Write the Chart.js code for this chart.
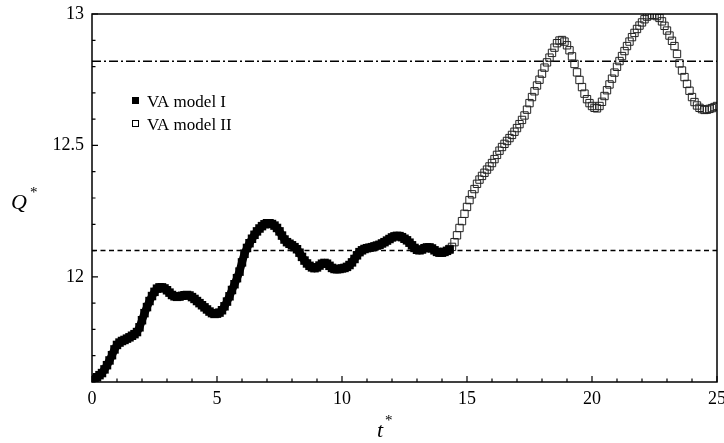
<!DOCTYPE html>
<html>
<head>
<meta charset="utf-8">
<script src="https://cdn.jsdelivr.net/npm/chart.js@4.4.0/dist/chart.umd.min.js"></script>
<style>
  html, body { margin: 0; padding: 0; background: #fff; }
  #wrap { width: 724px; height: 443px; position: relative; }
</style>
</head>
<body>
<div id="wrap"><canvas id="myChart"></canvas></div>
<script>
// sampling of both runs: t* every 0.1
var tStep = 0.1;
var tStartI = 0;
var tStartII = 14.3;

// VA model I, t* = 0 .. 14.3
var modelI = [
  11.608, 11.612, 11.618, 11.626, 11.634, 11.648, 11.664, 11.682, 11.702, 11.724,
  11.741, 11.750, 11.756, 11.760, 11.765, 11.770, 11.776, 11.782, 11.790, 11.808,
  11.835, 11.862, 11.885, 11.908, 11.927, 11.943, 11.955, 11.960, 11.960, 11.956,
  11.949, 11.940, 11.931, 11.926, 11.924, 11.925, 11.928, 11.930, 11.931, 11.929,
  11.923, 11.916, 11.908, 11.900, 11.892, 11.884, 11.876, 11.868, 11.862, 11.859,
  11.860, 11.864, 11.873, 11.888, 11.906, 11.926, 11.950, 11.972, 11.995, 12.020,
  12.055, 12.088, 12.110, 12.128, 12.145, 12.160, 12.173, 12.184, 12.193, 12.200,
  12.204, 12.204, 12.201, 12.195, 12.186, 12.173, 12.157, 12.142, 12.132, 12.126,
  12.120, 12.113, 12.105, 12.092, 12.076, 12.062, 12.051, 12.042, 12.036, 12.033,
  12.036, 12.043, 12.050, 12.053, 12.050, 12.042, 12.034, 12.030, 12.029, 12.030,
  12.032, 12.034, 12.038, 12.045, 12.055, 12.068, 12.082, 12.094, 12.101, 12.106,
  12.109, 12.111, 12.113, 12.116, 12.119, 12.122, 12.127, 12.132, 12.138, 12.144,
  12.150, 12.154, 12.156, 12.155, 12.151, 12.145, 12.139, 12.130, 12.120, 12.110,
  12.103, 12.101, 12.104, 12.109, 12.112, 12.112, 12.108, 12.101, 12.095, 12.092,
  12.092, 12.095, 12.099, 12.104
];

// VA model II, t* = 14.3 .. 25
var modelII = [
  12.106, 12.114, 12.132, 12.158, 12.186, 12.212, 12.240, 12.266, 12.292, 12.314,
  12.334, 12.354, 12.370, 12.384, 12.396, 12.408, 12.420, 12.433, 12.448, 12.464,
  12.480, 12.494, 12.506, 12.517, 12.528, 12.540, 12.552, 12.566, 12.581, 12.597,
  12.614, 12.636, 12.661, 12.684, 12.706, 12.728, 12.750, 12.773, 12.796, 12.816,
  12.834, 12.852, 12.872, 12.889, 12.899, 12.901, 12.895, 12.881, 12.862, 12.839,
  12.810, 12.778, 12.749, 12.722, 12.697, 12.676, 12.661, 12.650, 12.643, 12.641,
  12.650, 12.666, 12.688, 12.710, 12.732, 12.754, 12.777, 12.799, 12.821, 12.840,
  12.859, 12.878, 12.895, 12.912, 12.928, 12.943, 12.956, 12.968, 12.980, 12.990,
  12.995, 12.997, 12.996, 12.992, 12.985, 12.972, 12.955, 12.937, 12.918, 12.898,
  12.878, 12.848, 12.812, 12.785, 12.760, 12.734, 12.708, 12.684, 12.665, 12.652,
  12.643, 12.638, 12.635, 12.636, 12.639, 12.642, 12.646, 12.650
];

// horizontal reference levels
var levelDashed = 12.1;
var levelDashDot = 12.82;

var xTicks = [0, 5, 10, 15, 20, 25];
var yTicks = [12, 12.5, 13];
var legendNames = ['VA model I', 'VA model II'];

var serif = '"Liberation Serif", "DejaVu Serif", serif';

function toPoints(start, arr) {
  return arr.map(function (q, i) {
    return { x: Math.round((start + i * tStep) * 10) / 10, y: q };
  });
}

function level(v) {
  return [{ x: 0, y: v }, { x: 25, y: v }];
}

// frame, inward tick marks, axis titles and the legend
var decorations = {
  id: 'decorations',
  afterDraw: function (chart) {
    var ctx = chart.ctx;
    var xs = chart.scales.x, ys = chart.scales.y;
    var L = xs.getPixelForValue(0), R = xs.getPixelForValue(25);
    var T = ys.getPixelForValue(13), B = ys.getPixelForValue(11.6);
    ctx.save();
    ctx.strokeStyle = '#000';
    ctx.lineWidth = 1.5;
    ctx.strokeRect(L, T, R - L, B - T);

    ctx.lineWidth = 1.2;
    ctx.beginPath();
    for (var t = 0; t <= 25; t++) {
      var px = xs.getPixelForValue(t);
      var len = (t % 5 === 0) ? 6 : 3.5;
      ctx.moveTo(px, B);
      ctx.lineTo(px, B - len);
    }
    for (var k = 116; k <= 130; k++) {
      var py = ys.getPixelForValue(k / 10);
      var l2 = (k % 5 === 0) ? 6 : 3.5;
      ctx.moveTo(L, py);
      ctx.lineTo(L + l2, py);
    }
    ctx.stroke();

    // axis titles
    ctx.fillStyle = '#000';
    ctx.textBaseline = 'alphabetic';
    ctx.textAlign = 'left';
    ctx.font = 'italic 22px ' + serif;
    ctx.fillText('Q', 11, 209);
    ctx.fillText('t', 377, 437);
    ctx.font = '15px ' + serif;
    ctx.fillText('*', 30, 197);
    ctx.fillText('*', 385, 425);

    // legend
    ctx.font = '17px ' + serif;
    ctx.fillText(legendNames[0], 147, 107);
    ctx.fillText(legendNames[1], 147, 130);
    ctx.fillRect(132, 97, 7, 7);
    ctx.lineWidth = 1;
    ctx.strokeRect(132.5, 120.5, 6, 6);
    ctx.restore();
  }
};

var ctx = document.getElementById('myChart');
var myChart = new Chart(ctx, {
  type: 'scatter',
  data: {
    datasets: [
      {
        label: legendNames[0],
        data: toPoints(tStartI, modelI),
        showLine: true,
        borderColor: '#000',
        borderWidth: 8,
        pointStyle: 'rect',
        pointRadius: 6,
        backgroundColor: '#000',
        pointBorderWidth: 0
      },
      {
        label: legendNames[1],
        data: toPoints(tStartII, modelII),
        showLine: false,
        pointStyle: 'rect',
        pointRadius: 5.2,
        backgroundColor: 'rgba(0,0,0,0)',
        borderColor: '#222',
        pointBorderWidth: 1
      },
      {
        label: 'level I',
        data: level(levelDashed),
        showLine: true,
        pointRadius: 0,
        borderColor: '#000',
        borderWidth: 1.6,
        borderDash: [5, 3.5]
      },
      {
        label: 'level II',
        data: level(levelDashDot),
        showLine: true,
        pointRadius: 0,
        borderColor: '#000',
        borderWidth: 1.6,
        borderDash: [9, 3, 2, 3]
      }
    ]
  },
  options: {
    responsive: true,
    maintainAspectRatio: false,
    animation: false,
    layout: { padding: { left: 0, top: 14, right: 7, bottom: 0 } },
    plugins: {
      legend: { display: false },
      tooltip: { enabled: false }
    },
    scales: {
      x: {
        type: 'linear',
        min: 0,
        max: 25,
        grid: { display: false, drawTicks: false },
        border: { display: false },
        afterBuildTicks: function (s) { s.ticks = xTicks.map(function (v) { return { value: v }; }); },
        afterFit: function (s) { s.height = 61; s.paddingLeft = 0; s.paddingRight = 0; },
        ticks: {
          color: '#000',
          padding: 6,
          maxRotation: 0,
          font: { family: serif, size: 18 },
          callback: function (v) { return String(v); }
        }
      },
      y: {
        type: 'linear',
        min: 11.6,
        max: 13,
        grid: { display: false, drawTicks: false },
        border: { display: false },
        afterBuildTicks: function (s) { s.ticks = yTicks.map(function (v) { return { value: v }; }); },
        afterFit: function (s) { s.width = 92; s.paddingTop = 0; s.paddingBottom = 0; },
        ticks: {
          color: '#000',
          padding: 8,
          font: { family: serif, size: 18 },
          callback: function (v) { return String(v); }
        }
      }
    }
  },
  plugins: [decorations]
});
</script>
</body>
</html>
